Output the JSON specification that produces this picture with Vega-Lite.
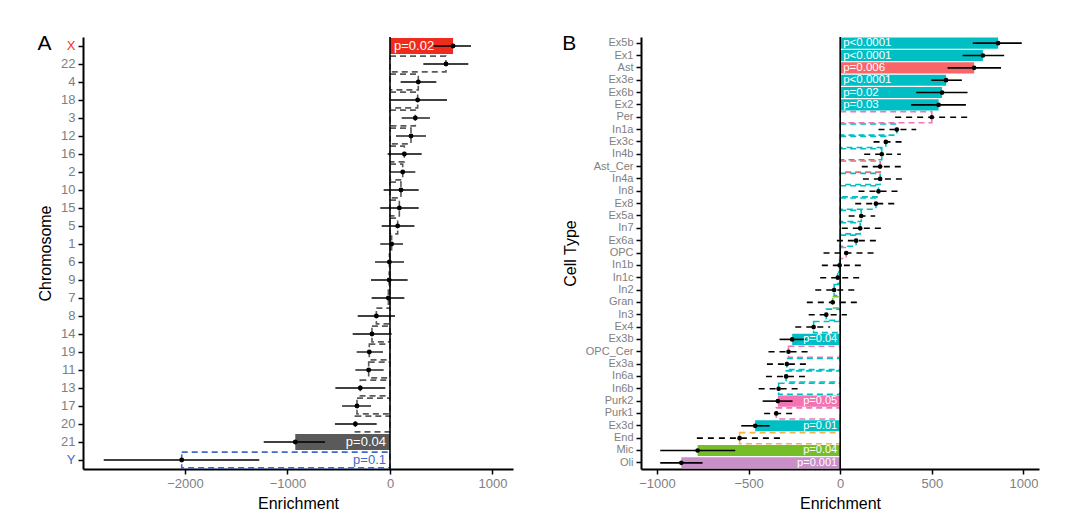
{
  "$schema": "https://vega.github.io/schema/vega-lite/v6.json",
  "padding": {"left": 37, "top": 33, "right": 5, "bottom": 5},
  "background": "white",
  "config": {
    "view": {"stroke": null},
    "font": "Liberation Sans",
    "axis": {"grid": false, "domainColor": "black", "domainWidth": 2, "tickColor": "black", "tickWidth": 1.5, "tickSize": 5, "labelFont": "Liberation Sans", "titleFont": "Liberation Sans", "titleFontWeight": "normal", "titleColor": "black", "titleFontSize": 16},
    "title": {"font": "Liberation Sans", "fontWeight": "normal", "fontSize": 21, "color": "black"}
  },
  "resolve": {"scale": {"color": "independent"}},
  "datasets": {
    "chrom": [
      {"chr": "X", "value": 615, "lo": 426, "hi": 790, "type": "X", "sig": true, "label": "p=0.02"},
      {"chr": "22", "value": 546, "lo": 325, "hi": 764, "type": "Autosome", "sig": false, "label": null},
      {"chr": "4", "value": 276, "lo": 104, "hi": 452, "type": "Autosome", "sig": false, "label": null},
      {"chr": "18", "value": 270, "lo": -10, "hi": 556, "type": "Autosome", "sig": false, "label": null},
      {"chr": "3", "value": 247, "lo": 114, "hi": 390, "type": "Autosome", "sig": false, "label": null},
      {"chr": "12", "value": 205, "lo": 59, "hi": 351, "type": "Autosome", "sig": false, "label": null},
      {"chr": "16", "value": 140, "lo": -23, "hi": 309, "type": "Autosome", "sig": false, "label": null},
      {"chr": "2", "value": 124, "lo": -6, "hi": 247, "type": "Autosome", "sig": false, "label": null},
      {"chr": "10", "value": 107, "lo": -62, "hi": 280, "type": "Autosome", "sig": false, "label": null},
      {"chr": "15", "value": 91, "lo": -95, "hi": 280, "type": "Autosome", "sig": false, "label": null},
      {"chr": "5", "value": 75, "lo": -81, "hi": 238, "type": "Autosome", "sig": false, "label": null},
      {"chr": "1", "value": 16, "lo": -95, "hi": 127, "type": "Autosome", "sig": false, "label": null},
      {"chr": "6", "value": -6, "lo": -146, "hi": 137, "type": "Autosome", "sig": false, "label": null},
      {"chr": "9", "value": -8, "lo": -185, "hi": 172, "type": "Autosome", "sig": false, "label": null},
      {"chr": "7", "value": -16, "lo": -179, "hi": 140, "type": "Autosome", "sig": false, "label": null},
      {"chr": "8", "value": -133, "lo": -315, "hi": 49, "type": "Autosome", "sig": false, "label": null},
      {"chr": "14", "value": -176, "lo": -364, "hi": 16, "type": "Autosome", "sig": false, "label": null},
      {"chr": "19", "value": -202, "lo": -325, "hi": -68, "type": "Autosome", "sig": false, "label": null},
      {"chr": "11", "value": -208, "lo": -338, "hi": -62, "type": "Autosome", "sig": false, "label": null},
      {"chr": "13", "value": -290, "lo": -533, "hi": -46, "type": "Autosome", "sig": false, "label": null},
      {"chr": "17", "value": -322, "lo": -468, "hi": -185, "type": "Autosome", "sig": false, "label": null},
      {"chr": "20", "value": -338, "lo": -537, "hi": -130, "type": "Autosome", "sig": false, "label": null},
      {"chr": "21", "value": -924, "lo": -1232, "hi": -634, "type": "Autosome", "sig": true, "label": "p=0.04"},
      {"chr": "Y", "value": -2032, "lo": -2793, "hi": -1275, "type": "Y", "sig": false, "label": "p=0.1"}
    ],
    "cells": [
      {"cell": "Ex5b", "value": 862, "lo": 724, "hi": 991, "cls": "Neuron", "sig": true, "label": "p<0.0001"},
      {"cell": "Ex1", "value": 779, "lo": 668, "hi": 895, "cls": "Neuron", "sig": true, "label": "p<0.0001"},
      {"cell": "Ast", "value": 731, "lo": 586, "hi": 878, "cls": "Astrocyte", "sig": true, "label": "p=0.006"},
      {"cell": "Ex3e", "value": 578, "lo": 497, "hi": 664, "cls": "Neuron", "sig": true, "label": "p<0.0001"},
      {"cell": "Ex6b", "value": 556, "lo": 415, "hi": 695, "cls": "Neuron", "sig": true, "label": "p=0.02"},
      {"cell": "Ex2", "value": 537, "lo": 387, "hi": 686, "cls": "Neuron", "sig": true, "label": "p=0.03"},
      {"cell": "Per", "value": 500, "lo": 300, "hi": 704, "cls": "Glia/Purkinje", "sig": false, "label": null},
      {"cell": "In1a", "value": 309, "lo": 209, "hi": 415, "cls": "Neuron", "sig": false, "label": null},
      {"cell": "Ex3c", "value": 249, "lo": 182, "hi": 340, "cls": "Neuron", "sig": false, "label": null},
      {"cell": "In4b", "value": 227, "lo": 131, "hi": 331, "cls": "Neuron", "sig": false, "label": null},
      {"cell": "Ast_Cer", "value": 218, "lo": 118, "hi": 342, "cls": "Astrocyte", "sig": false, "label": null},
      {"cell": "In4a", "value": 218, "lo": 124, "hi": 346, "cls": "Neuron", "sig": false, "label": null},
      {"cell": "In8", "value": 209, "lo": 100, "hi": 324, "cls": "Neuron", "sig": false, "label": null},
      {"cell": "Ex8", "value": 195, "lo": 82, "hi": 309, "cls": "Neuron", "sig": false, "label": null},
      {"cell": "Ex5a", "value": 115, "lo": 46, "hi": 191, "cls": "Neuron", "sig": false, "label": null},
      {"cell": "In7", "value": 109, "lo": 9, "hi": 222, "cls": "Neuron", "sig": false, "label": null},
      {"cell": "Ex6a", "value": 87, "lo": -18, "hi": 209, "cls": "Neuron", "sig": false, "label": null},
      {"cell": "OPC", "value": 33, "lo": -91, "hi": 195, "cls": "Glia/Purkinje", "sig": false, "label": null},
      {"cell": "In1b", "value": -3, "lo": -100, "hi": 115, "cls": "Neuron", "sig": false, "label": null},
      {"cell": "In1c", "value": -13, "lo": -109, "hi": 109, "cls": "Neuron", "sig": false, "label": null},
      {"cell": "In2", "value": -33, "lo": -136, "hi": 82, "cls": "Neuron", "sig": false, "label": null},
      {"cell": "Gran", "value": -41, "lo": -182, "hi": 97, "cls": "Granule", "sig": false, "label": null},
      {"cell": "In3", "value": -76, "lo": -172, "hi": 37, "cls": "Neuron", "sig": false, "label": null},
      {"cell": "Ex4", "value": -145, "lo": -245, "hi": -55, "cls": "Neuron", "sig": false, "label": null},
      {"cell": "Ex3b", "value": -262, "lo": -331, "hi": -186, "cls": "Neuron", "sig": true, "label": "p=0.04"},
      {"cell": "OPC_Cer", "value": -282, "lo": -391, "hi": -164, "cls": "Glia/Purkinje", "sig": false, "label": null},
      {"cell": "Ex3a", "value": -291, "lo": -400, "hi": -172, "cls": "Neuron", "sig": false, "label": null},
      {"cell": "In6a", "value": -295, "lo": -405, "hi": -182, "cls": "Neuron", "sig": false, "label": null},
      {"cell": "In6b", "value": -336, "lo": -445, "hi": -218, "cls": "Neuron", "sig": false, "label": null},
      {"cell": "Purk2", "value": -340, "lo": -423, "hi": -260, "cls": "Glia/Purkinje", "sig": true, "label": "p=0.05"},
      {"cell": "Purk1", "value": -349, "lo": -415, "hi": -254, "cls": "Glia/Purkinje", "sig": false, "label": null},
      {"cell": "Ex3d", "value": -464, "lo": -540, "hi": -385, "cls": "Neuron", "sig": true, "label": "p=0.01"},
      {"cell": "End", "value": -549, "lo": -782, "hi": -314, "cls": "Endothelial", "sig": false, "label": null},
      {"cell": "Mic", "value": -778, "lo": -982, "hi": -573, "cls": "Microglia", "sig": true, "label": "p=0.04"},
      {"cell": "Oli", "value": -867, "lo": -982, "hi": -751, "cls": "Oligodendrocyte", "sig": true, "label": "p=0.001"}
    ]
  },
  "spacing": 49,
  "hconcat": [
    {
      "width": 430,
      "height": 432,
      "title": {"text": "A", "anchor": "start", "frame": "bounds", "offset": -18},
      "data": {"name": "chrom"},
      "encoding": {
        "y": {"field": "chr", "type": "nominal",
          "sort": ["X", "22", "4", "18", "3", "12", "16", "2", "10", "15", "5", "1", "6", "9", "7", "8", "14", "19", "11", "13", "17", "20", "21", "Y"],
          "scale": {"paddingInner": 0.12, "paddingOuter": 0.06},
          "axis": {"title": "Chromosome", "labelFontSize": 13, "labelPadding": 3, "titlePadding": 7,
            "labelColor": {"condition": [{"test": "datum.value === 'X'", "value": "#EE3324"}, {"test": "datum.value === 'Y'", "value": "#4169C8"}], "value": "#808080"}}}
      },
      "layer": [
        {
          "transform": [{"filter": "!datum.sig"}],
          "mark": {"type": "bar", "filled": false, "strokeDash": [6, 4], "strokeWidth": 1.6},
          "encoding": {
            "x": {"field": "value", "type": "quantitative", "scale": {"domain": [-2995, 1200], "nice": false, "zero": false},
              "axis": {"title": "Enrichment", "values": [-2000, -1000, 0, 1000], "format": "d", "labelFontSize": 13, "labelColor": "#808080", "labelPadding": 3, "titlePadding": 5}},
            "x2": {"datum": 0},
            "color": {"field": "type", "type": "nominal", "legend": null,
              "scale": {"domain": ["X", "Autosome", "Y"], "range": ["#EE2C1E", "#5A5A5A", "#4169C8"]}}
          }
        },
        {
          "transform": [{"filter": "datum.sig"}],
          "mark": {"type": "bar"},
          "encoding": {
            "x": {"field": "value", "type": "quantitative"},
            "x2": {"datum": 0},
            "color": {"field": "type", "type": "nominal", "legend": null}
          }
        },
        {
          "data": {"values": [{"zero": 0}]},
          "mark": {"type": "rule", "color": "black", "strokeWidth": 1.6},
          "encoding": {"x": {"field": "zero", "type": "quantitative"}, "y": null}
        },
        {
          "mark": {"type": "rule", "color": "black", "strokeWidth": 1.3},
          "encoding": {
            "x": {"field": "lo", "type": "quantitative"},
            "x2": {"field": "hi"}
          }
        },
        {
          "mark": {"type": "point", "filled": true, "color": "black", "size": 24, "opacity": 1},
          "encoding": {"x": {"field": "value", "type": "quantitative"}}
        },
        {
          "transform": [{"filter": "datum.label != null && datum.value > 0"}],
          "mark": {"type": "text", "align": "left", "dx": 4, "fontSize": 13, "color": "white"},
          "encoding": {"x": {"datum": 0}, "text": {"field": "label"}}
        },
        {
          "transform": [{"filter": "datum.label != null && datum.value < 0"}],
          "mark": {"type": "text", "align": "right", "dx": -4, "fontSize": 13},
          "encoding": {
            "x": {"datum": 0},
            "text": {"field": "label"},
            "color": {"condition": {"test": "datum.sig", "value": "white"}, "field": "type", "type": "nominal", "legend": null}
          }
        }
      ]
    },
    {
      "width": 398,
      "height": 432,
      "title": {"text": "B", "anchor": "start", "frame": "bounds", "offset": -18},
      "data": {"name": "cells"},
      "encoding": {
        "y": {"field": "cell", "type": "nominal",
          "sort": ["Ex5b", "Ex1", "Ast", "Ex3e", "Ex6b", "Ex2", "Per", "In1a", "Ex3c", "In4b", "Ast_Cer", "In4a", "In8", "Ex8", "Ex5a", "In7", "Ex6a", "OPC", "In1b", "In1c", "In2", "Gran", "In3", "Ex4", "Ex3b", "OPC_Cer", "Ex3a", "In6a", "In6b", "Purk2", "Purk1", "Ex3d", "End", "Mic", "Oli"],
          "scale": {"paddingInner": 0.1, "paddingOuter": 0.05},
          "axis": {"title": "Cell Type", "labelFontSize": 11, "labelColor": "#808080", "labelPadding": 3, "titlePadding": 7}}
      },
      "layer": [
        {
          "transform": [{"filter": "!datum.sig"}],
          "mark": {"type": "bar", "filled": false, "strokeDash": [6, 4], "strokeWidth": 1.6},
          "encoding": {
            "x": {"field": "value", "type": "quantitative", "scale": {"domain": [-1087, 1085], "nice": false, "zero": false},
              "axis": {"title": "Enrichment", "values": [-1000, -500, 0, 500, 1000], "format": "d", "labelFontSize": 13, "labelColor": "#808080", "labelPadding": 3, "titlePadding": 5}},
            "x2": {"datum": 0},
            "color": {"field": "cls", "type": "nominal", "legend": null,
              "scale": {"domain": ["Neuron", "Astrocyte", "Glia/Purkinje", "Granule", "Endothelial", "Microglia", "Oligodendrocyte"],
                "range": ["#00BFC4", "#F8666A", "#F572B4", "#7CBF2A", "#F8B04A", "#74BE2A", "#C98FC9"]}}
          }
        },
        {
          "transform": [{"filter": "datum.sig"}],
          "mark": {"type": "bar"},
          "encoding": {
            "x": {"field": "value", "type": "quantitative"},
            "x2": {"datum": 0},
            "color": {"field": "cls", "type": "nominal", "legend": null}
          }
        },
        {
          "data": {"values": [{"zero": 0}]},
          "mark": {"type": "rule", "color": "black", "strokeWidth": 1.6},
          "encoding": {"x": {"field": "zero", "type": "quantitative"}, "y": null}
        },
        {
          "transform": [{"filter": "datum.sig"}],
          "mark": {"type": "rule", "color": "black", "strokeWidth": 1.6},
          "encoding": {"x": {"field": "lo", "type": "quantitative"}, "x2": {"field": "hi"}}
        },
        {
          "transform": [{"filter": "!datum.sig"}],
          "mark": {"type": "rule", "color": "black", "strokeWidth": 1.6, "strokeDash": [6, 5]},
          "encoding": {"x": {"field": "lo", "type": "quantitative"}, "x2": {"field": "hi"}}
        },
        {
          "mark": {"type": "point", "filled": true, "color": "black", "size": 22, "opacity": 1},
          "encoding": {"x": {"field": "value", "type": "quantitative"}}
        },
        {
          "transform": [{"filter": "datum.label != null && datum.value > 0"}],
          "mark": {"type": "text", "align": "left", "dx": 3, "fontSize": 11.5, "color": "white"},
          "encoding": {"x": {"datum": 0}, "text": {"field": "label"}}
        },
        {
          "transform": [{"filter": "datum.label != null && datum.value < 0"}],
          "mark": {"type": "text", "align": "right", "dx": -3, "fontSize": 11, "color": "white"},
          "encoding": {"x": {"datum": 0}, "text": {"field": "label"}}
        }
      ]
    }
  ]
}
